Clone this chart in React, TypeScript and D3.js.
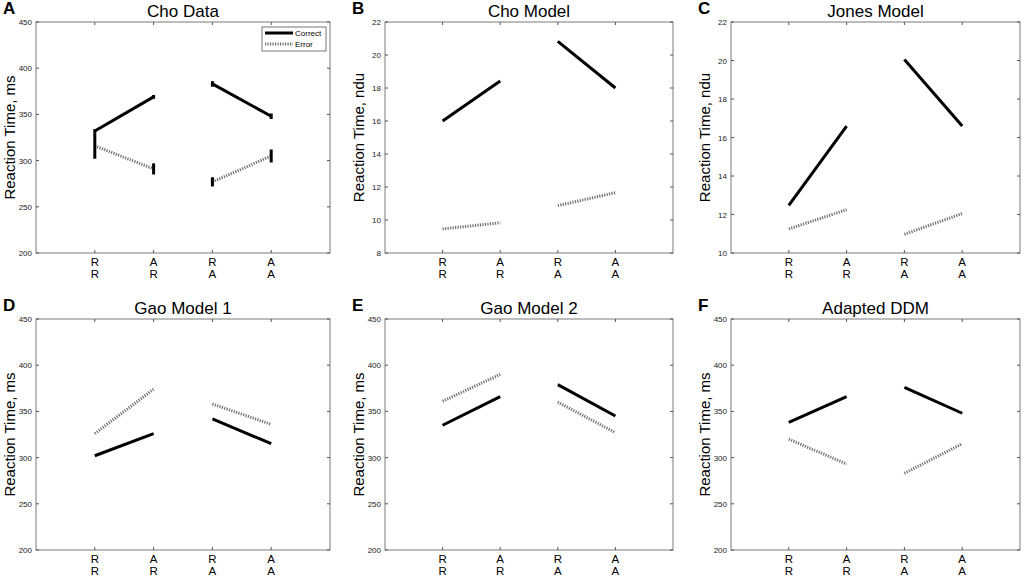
import React from "react";
import * as d3 from "d3";

// conditions along x (previous / current response)
const conditions = ["RR", "AR", "RA", "AA"];

// A: Cho data (ms), with error bar half-widths
const choDataCorrect = [332, 369, 383, 348];
const choDataCorrectErr = [2, 2, 3, 3];
const choDataError = [316, 291, 277, 305];
const choDataErrorErr = [14, 6, 5, 7];

// B: Cho model (ndu)
const choModelCorrect = [16.0, 18.42, 20.83, 18.0];
const choModelError = [9.46, 9.83, 10.87, 11.66];

// C: Jones model (ndu)
const jonesCorrect = [12.48, 16.59, 20.05, 16.6];
const jonesError = [11.25, 12.25, 10.97, 12.05];

// D: Gao model 1 (ms)
const gao1Correct = [302, 326, 342, 315];
const gao1Error = [326, 374, 358, 336];

// E: Gao model 2 (ms)
const gao2Correct = [335, 366, 379, 345];
const gao2Error = [361, 390, 360, 327];

// F: Adapted DDM (ms)
const ddmCorrect = [338, 366, 376, 348];
const ddmError = [320, 293, 283, 315];

const msTicks = [200, 250, 300, 350, 400, 450];
const nduTicksB = [8, 10, 12, 14, 16, 18, 20, 22];
const nduTicksC = [10, 12, 14, 16, 18, 20, 22];

interface Panel {
  letter: string;
  title: string;
  yLabel: string;
  domain: [number, number];
  ticks: number[];
  correct: number[];
  error: number[];
  correctErr?: number[];
  errorErr?: number[];
  legend?: boolean;
  box: { x0: number; x1: number; y0: number; y1: number };
}

const panels: Panel[] = [
  { letter: "A", title: "Cho Data", yLabel: "Reaction Time, ms", domain: [200, 450], ticks: msTicks,
    correct: choDataCorrect, error: choDataError, correctErr: choDataCorrectErr, errorErr: choDataErrorErr,
    legend: true, box: { x0: 36, x1: 330, y0: 22, y1: 253 } },
  { letter: "B", title: "Cho Model", yLabel: "Reaction Time, ndu", domain: [8, 22], ticks: nduTicksB,
    correct: choModelCorrect, error: choModelError, box: { x0: 385, x1: 673, y0: 22, y1: 253 } },
  { letter: "C", title: "Jones Model", yLabel: "Reaction Time, ndu", domain: [10, 22], ticks: nduTicksC,
    correct: jonesCorrect, error: jonesError, box: { x0: 731, x1: 1020, y0: 22, y1: 253 } },
  { letter: "D", title: "Gao Model 1", yLabel: "Reaction Time, ms", domain: [200, 450], ticks: msTicks,
    correct: gao1Correct, error: gao1Error, box: { x0: 36, x1: 330, y0: 319, y1: 550 } },
  { letter: "E", title: "Gao Model 2", yLabel: "Reaction Time, ms", domain: [200, 450], ticks: msTicks,
    correct: gao2Correct, error: gao2Error, box: { x0: 385, x1: 673, y0: 319, y1: 550 } },
  { letter: "F", title: "Adapted DDM", yLabel: "Reaction Time, ms", domain: [200, 450], ticks: msTicks,
    correct: ddmCorrect, error: ddmError, box: { x0: 731, x1: 1020, y0: 319, y1: 550 } },
];

const FONT = "'Liberation Sans', Arial, sans-serif";
const ERR_DASH = "1.2,1.3";
const ERR_COLOR = "#6e6e6e";

function ChartPanel({ p }: { p: Panel }) {
  const { x0, x1, y0, y1 } = p.box;
  const x = d3.scaleLinear().domain([0, 5]).range([x0, x1]);
  const y = d3.scaleLinear().domain(p.domain).range([y1, y0]);
  const line = d3.line<[number, number]>().x((d) => x(d[0])).y((d) => y(d[1]));
  // segments are drawn in pairs: RR-AR and RA-AA
  const seg = (vals: number[]): [number, number][][] => {
    const pts = vals.map((v, i) => [i + 1, v] as [number, number]);
    return [pts.slice(0, 2), pts.slice(2, 4)];
  };
  const tl = 3;

  return (
    <g>
      <text x={x0 - 33} y={y0 - 8} fontFamily={FONT} fontWeight="bold" fontSize={17}>{p.letter}</text>
      <text x={(x0 + x1) / 2} y={y0 - 5} textAnchor="middle" fontFamily={FONT} fontSize={17}>{p.title}</text>
      <rect x={x0} y={y0} width={x1 - x0} height={y1 - y0} fill="white" stroke="#7a7a7a" strokeWidth={1} />
      {p.ticks.map((t) => (
        <g key={t}>
          <line x1={x0} x2={x0 + tl} y1={y(t)} y2={y(t)} stroke="#555" />
          <line x1={x1} x2={x1 - tl} y1={y(t)} y2={y(t)} stroke="#555" />
          <text x={x0 - 4} y={y(t) + 3} textAnchor="end" fontFamily={FONT} fontSize={8} fill="#222">{t}</text>
        </g>
      ))}
      {conditions.map((c, i) => (
        <g key={c}>
          <line x1={x(i + 1)} x2={x(i + 1)} y1={y1} y2={y1 - tl} stroke="#555" />
          <line x1={x(i + 1)} x2={x(i + 1)} y1={y0} y2={y0 + tl} stroke="#555" />
          <text x={x(i + 1)} y={y1 + 12.5} textAnchor="middle" fontFamily={FONT} fontSize={11.5}>{c[0]}</text>
          <text x={x(i + 1)} y={y1 + 24.5} textAnchor="middle" fontFamily={FONT} fontSize={11.5}>{c[1]}</text>
        </g>
      ))}
      <text transform={`translate(${x0 - 21},${(y0 + y1) / 2}) rotate(-90)`} textAnchor="middle"
        fontFamily={FONT} fontSize={15}>{p.yLabel}</text>
      {seg(p.error).map((s, k) => (
        <path key={"e" + k} d={line(s) ?? ""} fill="none" stroke={ERR_COLOR} strokeWidth={3} strokeDasharray={ERR_DASH} />
      ))}
      {seg(p.correct).map((s, k) => (
        <path key={"c" + k} d={line(s) ?? ""} fill="none" stroke="black" strokeWidth={3} />
      ))}
      {p.errorErr && p.error.map((v, i) => (
        <line key={"eb" + i} x1={x(i + 1)} x2={x(i + 1)} y1={y(v - p.errorErr![i])} y2={y(v + p.errorErr![i])}
          stroke="black" strokeWidth={3} />
      ))}
      {p.correctErr && p.correct.map((v, i) => (
        <line key={"cb" + i} x1={x(i + 1)} x2={x(i + 1)} y1={y(v - p.correctErr![i])} y2={y(v + p.correctErr![i])}
          stroke="black" strokeWidth={3} />
      ))}
      {p.legend && (
        <g>
          <rect x={x1 - 68} y={y0 + 5} width={64} height={24} fill="white" stroke="#555" strokeWidth={0.8} />
          <line x1={x1 - 65} x2={x1 - 37} y1={y0 + 11} y2={y0 + 11} stroke="black" strokeWidth={3} />
          <text x={x1 - 35} y={y0 + 14} fontFamily={FONT} fontSize={8}>Correct</text>
          <line x1={x1 - 65} x2={x1 - 37} y1={y0 + 22} y2={y0 + 22} stroke={ERR_COLOR} strokeWidth={3} strokeDasharray={ERR_DASH} />
          <text x={x1 - 35} y={y0 + 25} fontFamily={FONT} fontSize={8}>Error</text>
        </g>
      )}
    </g>
  );
}

export default function App() {
  return (
    <svg width={1028} height={578} style={{ position: "absolute", left: 0, top: 0, background: "white" }}>
      {panels.map((p) => (
        <ChartPanel key={p.letter} p={p} />
      ))}
    </svg>
  );
}
